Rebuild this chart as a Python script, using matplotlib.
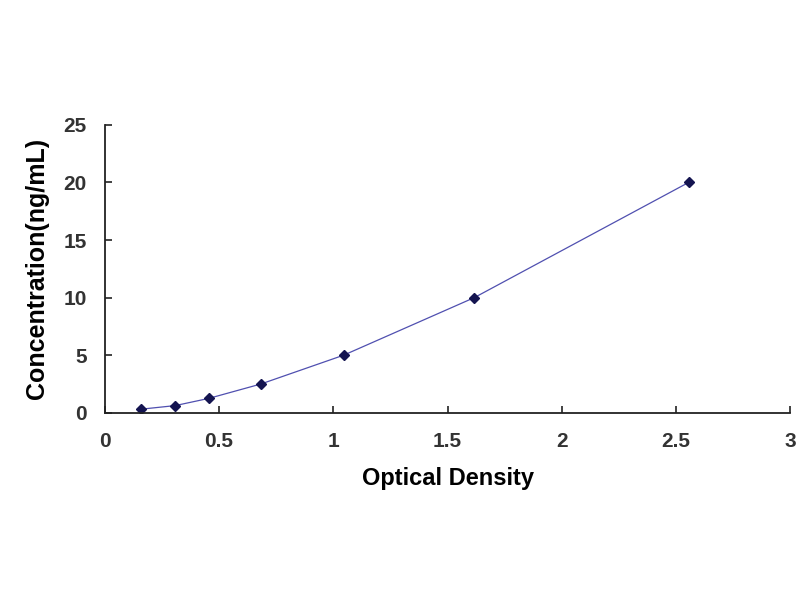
import matplotlib
matplotlib.use("Agg")
import matplotlib.pyplot as plt

# Datos de la curva estandar
densidad_optica = [0.158, 0.308, 0.455, 0.683, 1.045, 1.617, 2.555]
concentracion = [0.312, 0.625, 1.25, 2.5, 5, 10, 20]

x_ticks = [0, 0.5, 1, 1.5, 2, 2.5, 3]
x_tick_labels = ["0", "0.5", "1", "1.5", "2", "2.5", "3"]
y_ticks = [0, 5, 10, 15, 20, 25]

plt.rcParams['font.family'] = ['Liberation Sans', 'DejaVu Sans']

fig = plt.figure(figsize=(8, 6), dpi=100)
ax = fig.add_axes([0.131, 0.312, 0.857, 0.48])

# Linea y puntos
ax.plot(densidad_optica, concentracion, color='#5050b0', linewidth=0.9)
ax.plot(densidad_optica, concentracion, linestyle='none', marker='D',
        markersize=5.5, color='#141450')

ax.set_xlim(0, 3)
ax.set_ylim(0, 25)
ax.set_xticks(x_ticks)
ax.set_xticklabels(x_tick_labels)
ax.set_yticks(y_ticks)

for lado in ['top', 'right']:
    ax.spines[lado].set_visible(False)
for lado in ['left', 'bottom']:
    ax.spines[lado].set_linewidth(1.3)
    ax.spines[lado].set_color('#222222')

ax.tick_params(direction='in', length=5, width=1.2, colors='#222222',
               labelsize=15)
ax.tick_params(axis='x', pad=14)
ax.tick_params(axis='y', pad=13)
for etiqueta in ax.get_xticklabels() + ax.get_yticklabels():
    etiqueta.set_fontweight('bold')
    etiqueta.set_color('#333333')

ax.set_xlabel('Optical Density', fontsize=17, fontweight='bold', labelpad=11)
ax.set_ylabel('Concentration(ng/mL)', fontsize=18, fontweight='bold', labelpad=10)

fig.savefig('out.png', dpi=100, facecolor='white')
